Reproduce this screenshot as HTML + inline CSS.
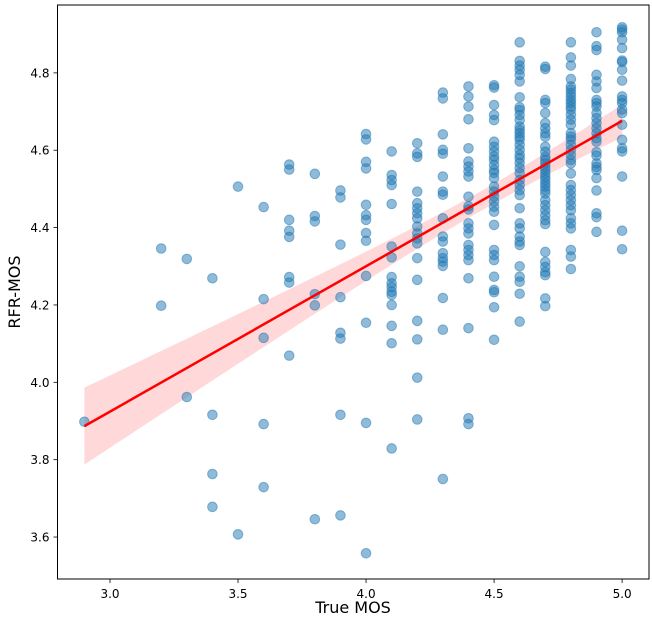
<!DOCTYPE html>
<html><head><meta charset="utf-8">
<style>
html,body{margin:0;padding:0;background:#fff;}
svg{display:block;font-family:"DejaVu Sans","Liberation Sans",sans-serif;}
</style></head>
<body>
<svg id="chart" width="652" height="627" viewBox="0 0 652 627" xmlns="http://www.w3.org/2000/svg">
<rect x="0" y="0" width="652" height="627" fill="#fff"/>
<g id="band-layer"></g>
<g id="points"></g>
<g id="line-layer"></g>
<g id="axes"></g>
<text x="353" y="613" text-anchor="middle" font-size="16" fill="#000">True MOS</text>
<text x="20" y="292" text-anchor="middle" font-size="16" fill="#000" transform="rotate(-90 20 292)">RFR-MOS</text>
</svg>
<script>
const xCategories = [2.9,3.2,3.3,3.4,3.5,3.6,3.7,3.8,3.9,4.0,4.1,4.2,4.3,4.4,4.5,4.6,4.7,4.8,4.9,5.0];
const yByCategory = [
 [3.898],
 [4.346,4.198],
 [4.319,3.962],
 [4.269,3.916,3.763,3.678],
 [4.506,3.607],
 [4.453,4.215,4.115,3.892,3.729],
 [4.563,4.55,4.42,4.392,4.376,4.272,4.258,4.069],
 [4.539,4.43,4.416,4.228,4.199,3.646],
 [4.496,4.478,4.356,4.22,4.128,4.113,3.916,3.656],
 [4.642,4.628,4.57,4.553,4.459,4.432,4.42,4.386,4.366,4.275,4.154,3.895,3.558],
 [4.597,4.536,4.523,4.51,4.461,4.351,4.323,4.272,4.256,4.246,4.234,4.226,4.2,4.146,4.101,3.829],
 [4.618,4.592,4.583,4.493,4.463,4.45,4.437,4.424,4.403,4.385,4.372,4.359,4.321,4.265,4.159,4.111,4.012,3.904],
 [4.749,4.734,4.641,4.601,4.591,4.532,4.493,4.485,4.424,4.377,4.364,4.334,4.321,4.312,4.301,4.218,4.136,3.75],
 [4.765,4.739,4.713,4.68,4.605,4.571,4.558,4.545,4.532,4.48,4.455,4.447,4.411,4.398,4.385,4.355,4.342,4.329,4.316,4.269,4.14,3.907,3.892],
 [4.768,4.762,4.717,4.691,4.678,4.622,4.609,4.597,4.584,4.575,4.562,4.549,4.541,4.528,4.506,4.493,4.48,4.467,4.454,4.441,4.407,4.342,4.329,4.316,4.273,4.239,4.233,4.194,4.11],
 [4.879,4.831,4.819,4.808,4.795,4.778,4.737,4.711,4.704,4.691,4.678,4.661,4.652,4.644,4.635,4.627,4.614,4.601,4.588,4.579,4.567,4.554,4.541,4.523,4.51,4.497,4.484,4.45,4.411,4.398,4.377,4.364,4.355,4.3,4.273,4.26,4.229,4.157],
 [4.816,4.81,4.73,4.722,4.696,4.67,4.657,4.644,4.635,4.609,4.596,4.583,4.575,4.566,4.557,4.549,4.54,4.531,4.523,4.514,4.506,4.497,4.488,4.471,4.458,4.445,4.432,4.419,4.409,4.337,4.311,4.298,4.285,4.277,4.217,4.197],
 [4.879,4.84,4.819,4.784,4.765,4.757,4.748,4.739,4.73,4.722,4.713,4.705,4.692,4.679,4.666,4.644,4.635,4.627,4.614,4.601,4.588,4.575,4.566,4.54,4.51,4.497,4.484,4.471,4.458,4.445,4.424,4.411,4.398,4.342,4.325,4.293],
 [4.905,4.869,4.859,4.795,4.778,4.761,4.73,4.722,4.713,4.696,4.683,4.67,4.657,4.644,4.631,4.622,4.595,4.586,4.566,4.557,4.549,4.528,4.496,4.437,4.427,4.389],
 [4.918,4.912,4.905,4.886,4.864,4.832,4.828,4.808,4.78,4.739,4.73,4.722,4.705,4.696,4.666,4.627,4.605,4.597,4.532,4.392,4.344]
];
const xTicks = [3.0,3.5,4.0,4.5,5.0];
const xTickLabels = ["3.0","3.5","4.0","4.5","5.0"];
const yTicks = [3.6,3.8,4.0,4.2,4.4,4.6,4.8];
const yTickLabels = ["3.6","3.8","4.0","4.2","4.4","4.6","4.8"];

const L=57.5, R=649, T=5, B=579;
const xMin=2.795, xMax=5.105, yMin=3.4915, yMax=4.9755;
function sx(v){return L+(v-xMin)/(xMax-xMin)*(R-L);}
function sy(v){return B-(v-yMin)/(yMax-yMin)*(B-T);}
const NS="http://www.w3.org/2000/svg";
function mk(tag,attrs,parent){const e=document.createElementNS(NS,tag);for(const k in attrs)e.setAttribute(k,attrs[k]);parent.appendChild(e);return e;}

const pts=document.getElementById('points');
const xs=[],ys=[];
xCategories.forEach((x,i)=>{
  yByCategory[i].forEach((y,j)=>{
    xs.push(x);ys.push(y);
    const c=mk('circle',{cx:sx(x).toFixed(2),cy:sy(y).toFixed(2),r:4.8,fill:'#1f77b4','fill-opacity':0.5,stroke:'#1f77b4','stroke-opacity':0.5,'stroke-width':1},pts);
    
    
  });
});

const n=xs.length;
const mx=xs.reduce((a,b)=>a+b,0)/n, my=ys.reduce((a,b)=>a+b,0)/n;
let sxx=0,sxy=0;for(let i=0;i<n;i++){sxx+=(xs[i]-mx)**2;sxy+=(xs[i]-mx)*(ys[i]-my);}
const slope=sxy/sxx, icpt=my-slope*mx;
let sse=0;for(let i=0;i<n;i++){sse+=(ys[i]-(icpt+slope*xs[i]))**2;}
const s=Math.sqrt(sse/(n-2));
const x0=Math.min(...xs), x1=Math.max(...xs);
const upper=[],lower=[];
for(let k=0;k<=50;k++){
  const x=x0+(x1-x0)*k/50;
  const yh=icpt+slope*x;
  const se=s*Math.sqrt(1/n+(x-mx)**2/sxx)*2.25;
  upper.push(sx(x).toFixed(2)+','+sy(yh+se).toFixed(2));
  lower.unshift(sx(x).toFixed(2)+','+sy(yh-se).toFixed(2));
}
const band=mk('polygon',{points:upper.concat(lower).join(' '),fill:'#ff0000','fill-opacity':0.15,stroke:'none'},document.getElementById('band-layer'));


const ln=mk('line',{x1:sx(x0),y1:sy(icpt+slope*x0),x2:sx(x1),y2:sy(icpt+slope*x1),stroke:'#ff0000','stroke-width':2.5},document.getElementById('line-layer'));



const ax=document.getElementById('axes');
const frame=mk('rect',{x:L,y:T,width:R-L,height:B-T,fill:'none',stroke:'#000','stroke-width':1},ax);


xTicks.forEach((v,i)=>{
  const x=sx(v);
  const t=mk('line',{x1:x,y1:B,x2:x,y2:B+4,stroke:'#000','stroke-width':0.8},ax);
  
  
  const lb=mk('text',{x:x,y:B+19,'text-anchor':'middle','font-size':12,fill:'#000'},ax);
  lb.textContent=xTickLabels[i];
  
  
});
yTicks.forEach((v,i)=>{
  const y=sy(v);
  const t=mk('line',{x1:L-4,y1:y,x2:L,y2:y,stroke:'#000','stroke-width':0.8},ax);
  
  
  const lb=mk('text',{x:L-8,y:y+4.5,'text-anchor':'end','font-size':12,fill:'#000'},ax);
  lb.textContent=yTickLabels[i];
  
  
});
</script>
</body></html>
